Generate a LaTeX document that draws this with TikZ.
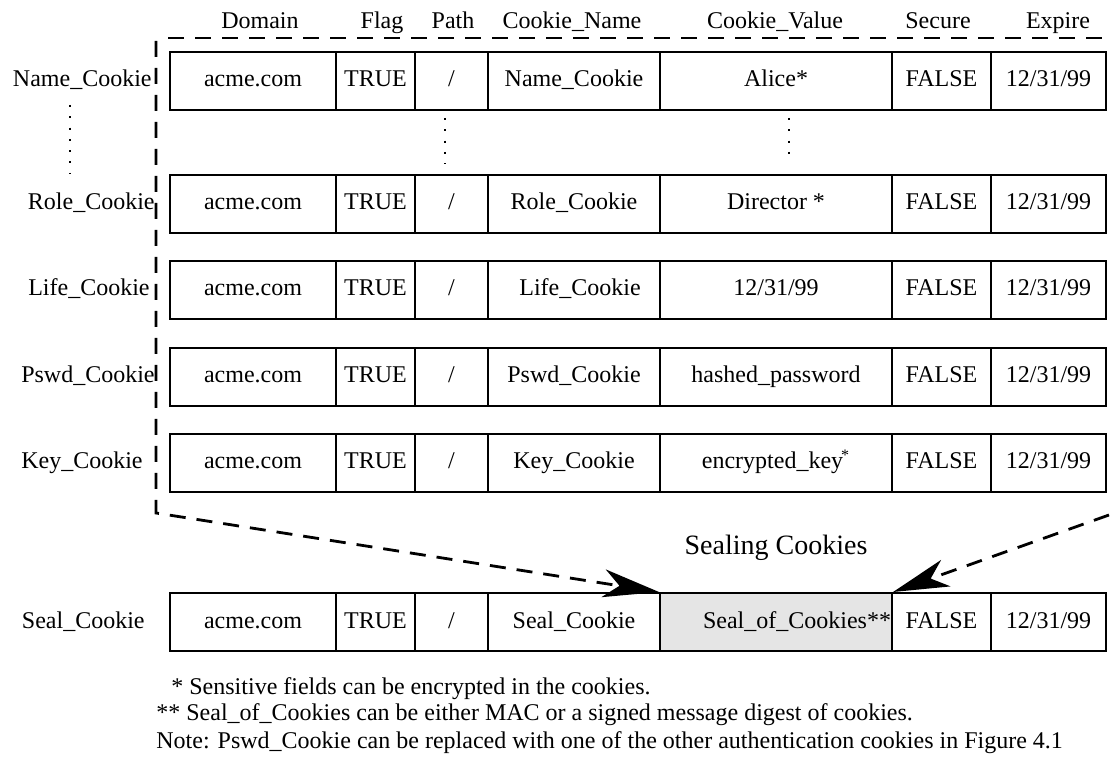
\documentclass[tikz,border=0pt]{standalone}
\usepackage{fontspec}
\setmainfont{Liberation Serif}
\usetikzlibrary{arrows.meta,positioning,calc}
\begin{document}
\begin{tikzpicture}[
  x=0.5pt, y=-0.5pt,
  font=\fontsize{12}{14}\selectfont,
  every node/.style={align=center, text height=8.6pt, text depth=2.6pt},
  cell/.style={draw, line width=1pt, minimum height=29pt, inner sep=0pt, fill=white},
  cDom/.style={cell, minimum width=83pt},
  cFlag/.style={cell, minimum width=39.5pt},
  cPath/.style={cell, minimum width=36.5pt},
  cName/.style={cell, minimum width=86pt},
  cVal/.style={cell, minimum width=116pt},
  cSec/.style={cell, minimum width=49.5pt},
  cExp/.style={cell, minimum width=57.5pt},
  head/.style={inner sep=0pt},
  rowlabel/.style={anchor=east, inner sep=0pt},
  frame/.style={dash pattern=on 8pt off 5.5pt, line width=1.4pt},
  sealarr/.style={frame, -{Stealth[length=28pt, width=14pt, inset=8pt]}},
  dotline/.style={dash pattern=on 1pt off 4.65pt, line width=1pt},
  note/.style={anchor=west, inner sep=0pt, align=left},
]
\useasboundingbox (0,0) rectangle (1110,759);

%% --- Column headers ---
\node[head] (hDom)  at ( 260,23) {Domain};
\node[head] (hFlag) at ( 382,23) {Flag};
\node[head] (hPath) at ( 453,23) {Path};
\node[head] (hName) at ( 572,23) {Cookie\_Name};
\node[head] (hVal)  at ( 775,23) {Cookie\_Value};
\node[head] (hSec)  at ( 938,23) {Secure};
\node[head] (hExp)  at (1058,23) {Expire};

%% --- Dashed frame round the cookie rows ---
\coordinate (frameTL) at (156,41);
\coordinate (frameBL) at (156,513);
\coordinate (frameBR) at (1109,515);
\draw[frame] (168,38) -- (1110,38);

%% --- Row: Name_Cookie ---
\node[rowlabel] (lName) at (152,81) {Name\_Cookie};
\node[cDom]  (nameDom)  at ( 253,81) {acme.com};
\node[cFlag] (nameFlag) at ( 375.5,81) {TRUE};
\node[cPath] (namePath) at ( 451.5,81) {/};
\node[cName] (nameName) at ( 574,81) {Name\_Cookie};
\node[cVal]  (nameVal)  at ( 776,81) {Alice*};
\node[cSec]  (nameSec)  at ( 941.5,81) {FALSE};
\node[cExp]  (nameExp)  at (1048.5,81) {12/31/99};

%% --- Dots between Name and Role ---
\draw[dotline] (70,105) -- (70,174);
\draw[dotline] (445,118) -- (445,164);
\draw[dotline] (789,118) -- (789,154);

%% --- Row: Role_Cookie ---
\node[rowlabel] (lRole) at (155,204) {Role\_Cookie};
\node[cDom]  (roleDom)  at ( 253,204) {acme.com};
\node[cFlag] (roleFlag) at ( 375.5,204) {TRUE};
\node[cPath] (rolePath) at ( 451.5,204) {/};
\node[cName] (roleName) at ( 574,204) {Role\_Cookie};
\node[cVal]  (roleVal)  at ( 776,204) {Director *};
\node[cSec]  (roleSec)  at ( 941.5,204) {FALSE};
\node[cExp]  (roleExp)  at (1048.5,204) {12/31/99};

%% --- Row: Life_Cookie ---
\node[rowlabel] (lLife) at (150,290) {Life\_Cookie};
\node[cDom]  (lifeDom)  at ( 253,290) {acme.com};
\node[cFlag] (lifeFlag) at ( 375.5,290) {TRUE};
\node[cPath] (lifePath) at ( 451.5,290) {/};
\node[cName] (lifeName) at ( 574,290) {\hspace*{6pt}Life\_Cookie};
\node[cVal]  (lifeVal)  at ( 776,290) {12/31/99};
\node[cSec]  (lifeSec)  at ( 941.5,290) {FALSE};
\node[cExp]  (lifeExp)  at (1048.5,290) {12/31/99};

%% --- Row: Pswd_Cookie ---
\node[rowlabel] (lPswd) at (155,377) {Pswd\_Cookie};
\node[cDom]  (pswdDom)  at ( 253,377) {acme.com};
\node[cFlag] (pswdFlag) at ( 375.5,377) {TRUE};
\node[cPath] (pswdPath) at ( 451.5,377) {/};
\node[cName] (pswdName) at ( 574,377) {Pswd\_Cookie};
\node[cVal]  (pswdVal)  at ( 776,377) {hashed\_password};
\node[cSec]  (pswdSec)  at ( 941.5,377) {FALSE};
\node[cExp]  (pswdExp)  at (1048.5,377) {12/31/99};

%% --- Row: Key_Cookie ---
\node[rowlabel] (lKey) at (143,463) {Key\_Cookie};
\node[cDom]  (keyDom)  at ( 253,463) {acme.com};
\node[cFlag] (keyFlag) at ( 375.5,463) {TRUE};
\node[cPath] (keyPath) at ( 451.5,463) {/};
\node[cName] (keyName) at ( 574,463) {Key\_Cookie};
\node[cVal]  (keyVal)  at ( 776,463) {encrypted\_key\kern-1pt\textsuperscript{*}};
\node[cSec]  (keySec)  at ( 941.5,463) {FALSE};
\node[cExp]  (keyExp)  at (1048.5,463) {12/31/99};

%% --- Row: Seal_Cookie ---
\node[rowlabel] (lSeal) at (145,622) {Seal\_Cookie};
\node[cDom]  (sealDom)  at ( 253,622) {acme.com};
\node[cFlag] (sealFlag) at ( 375.5,622) {TRUE};
\node[cPath] (sealPath) at ( 451.5,622) {/};
\node[cName] (sealName) at ( 574,622) {Seal\_Cookie};
\node[cVal, fill=black!10, text width=115pt, align=right] (sealVal) at ( 776,622) {Seal\_of\_Cookies**};
\node[cSec]  (sealSec)  at ( 941.5,622) {FALSE};
\node[cExp]  (sealExp)  at (1048.5,622) {12/31/99};

\node[head, font=\fontsize{14}{16}\selectfont] (sealing) at (776,548) {Sealing Cookies};

%% --- Frame sides running into the seal field ---
\draw[sealarr] (frameTL) -- (frameBL) -- (sealVal.north west);
\draw[sealarr] (frameBR) -- (sealVal.north east);

%% --- Footnotes ---
\node[note] (fn1) at (171,688) {* Sensitive fields can be encrypted in the cookies.};
\node[note] (fn2) at (156,714) {** Seal\_of\_Cookies can be either MAC or a signed message digest of cookies.};
\node[note] (fn3) at (156,742) {Note: Pswd\_Cookie can be replaced with one of the other authentication cookies in Figure 4.1};

\end{tikzpicture}
\end{document}
